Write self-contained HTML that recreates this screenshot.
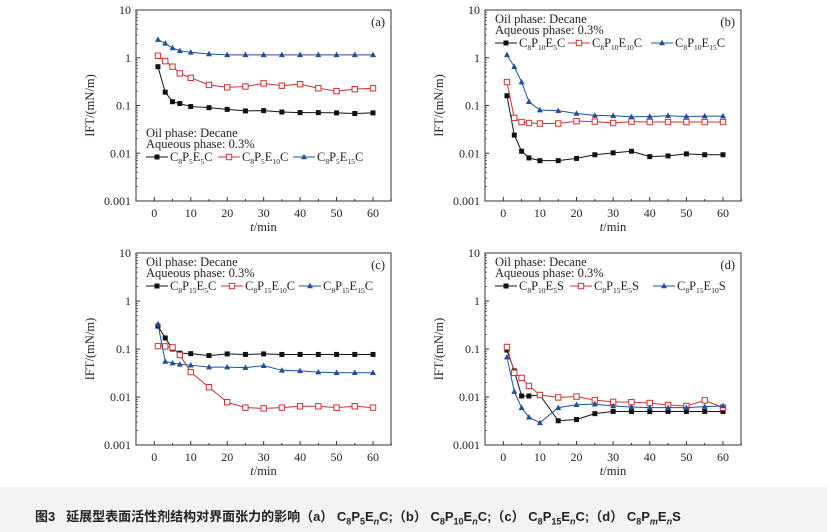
<!DOCTYPE html>
<html><head><meta charset="utf-8"><style>
body{margin:0;width:827px;height:532px;background:#fff;overflow:hidden;font-family:"Liberation Serif",serif}
#cap{position:absolute;left:0;top:487px;width:827px;height:45px;background:#f3f3f3}
#capt{position:absolute;left:35px;top:506px;font:bold 13px "Liberation Sans","Noto Sans CJK SC",sans-serif;color:#222;white-space:nowrap}
sub{font-size:9px}
</style></head><body>
<svg id="s" width="827" height="487" style="position:absolute;left:0;top:0" font-family="Liberation Serif, serif"></svg>
<div id="cap"></div>
<div id="capt">图3&nbsp;&nbsp; 延展型表面活性剂结构对界面张力的影响（a） C<sub>8</sub>P<sub>5</sub>E<sub><i>n</i></sub>C;（b） C<sub>8</sub>P<sub>10</sub>E<sub><i>n</i></sub>C;（c） C<sub>8</sub>P<sub>15</sub>E<sub><i>n</i></sub>C;（d） C<sub>8</sub>P<sub><i>m</i></sub>E<sub><i>n</i></sub>S</div>
<script>
var T=[1,3,5,7,10,15,20,25,30,35,40,45,50,55,60];
var P=[
{L:136,R:391,Tp:10,B:201,lab:"(a)",leg:"bottom",offs:[0,72,147],
 names:[["C","8","P","5","E","5","C"],["C","8","P","5","E","10","C"],["C","8","P","5","E","15","C"]],
 d:[[.65,.19,.12,.11,.095,.09,.083,.077,.078,.073,.071,.071,.07,.068,.07],
 [1.1,.85,.65,.47,.38,.27,.24,.25,.29,.26,.28,.23,.2,.22,.23],
 [2.4,2.0,1.6,1.4,1.3,1.2,1.15,1.15,1.15,1.15,1.15,1.15,1.15,1.15,1.15]]},
{L:485,R:741,Tp:10,B:201,lab:"(b)",leg:"top",offs:[0,73,156],
 names:[["C","8","P","10","E","5","C"],["C","8","P","10","E","10","C"],["C","8","P","10","E","15","C"]],
 d:[[.16,.024,.011,.008,.007,.007,.0078,.0093,.0102,.011,.0085,.0088,.0097,.0093,.0093],
 [.31,.055,.045,.043,.042,.042,.047,.046,.043,.046,.045,.045,.045,.045,.045],
 [1.15,.65,.31,.12,.08,.078,.068,.062,.061,.058,.059,.061,.059,.06,.06]]},
{L:136,R:391,Tp:253,B:445,lab:"(c)",leg:"top",offs:[0,75,153],
 names:[["C","8","P","15","E","5","C"],["C","8","P","15","E","10","C"],["C","8","P","15","E","15","C"]],
 d:[[.3,.17,.1,.082,.08,.073,.079,.077,.079,.077,.077,.077,.077,.077,.077],
 [.115,.113,.108,.075,.033,.016,.0078,.006,.0058,.006,.0064,.0064,.006,.0064,.006],
 [.33,.055,.051,.048,.046,.042,.042,.041,.045,.036,.035,.033,.032,.032,.032]]},
{L:485,R:741,Tp:253,B:445,lab:"(d)",leg:"top",offs:[0,75,158],
 names:[["C","8","P","10","E","5","S"],["C","8","P","15","E","5","S"],["C","8","P","15","E","10","S"]],
 d:[[.095,.035,.0105,.0105,.011,.0032,.0034,.0045,.005,.005,.005,.005,.005,.005,.005],
 [.11,.032,.025,.017,.011,.0098,.0102,.0086,.0079,.0078,.0075,.0068,.0065,.0085,.006],
 [.068,.013,.006,.0038,.0029,.006,.0069,.0071,.0065,.0062,.006,.006,.006,.0063,.0065]]}];
var C=["#111","#d03030","#1f4f9a"];
var h="";
function mk(k,x,y){if(k==0)return '<rect x="'+(x-2.5)+'" y="'+(y-2.5)+'" width="5" height="5" fill="#111"/>';
if(k==1)return '<rect x="'+(x-2.7)+'" y="'+(y-2.7)+'" width="5.4" height="5.4" fill="#fff" stroke="#d03030" stroke-width="1"/>';
return '<polygon points="'+x+','+(y-3.2)+' '+(x+3)+','+(y+2.3)+' '+(x-3)+','+(y+2.3)+'" fill="#1f4f9a"/>';}
function nm(a,x,y){return '<text x="'+x+'" y="'+y+'" font-size="12.5" fill="#222">'+a[0]+'<tspan font-size="7.5" dy="3">'+a[1]+'</tspan><tspan dy="-3">'+a[2]+'</tspan><tspan font-size="7.5" dy="3">'+a[3]+'</tspan><tspan dy="-3">'+a[4]+'</tspan><tspan font-size="7.5" dy="3">'+a[5]+'</tspan><tspan dy="-3">'+a[6]+'</tspan></text>';}
P.forEach(function(p){
 var x0=p.L+18.3, sx=(p.R-18-x0)/60, dec=(p.B-p.Tp)/4;
 function X(t){return x0+t*sx} function Y(v){return p.B-(Math.log10(v)+3)*dec}
 h+='<rect x="'+p.L+'" y="'+p.Tp+'" width="'+(p.R-p.L)+'" height="'+(p.B-p.Tp)+'" fill="none" stroke="#333" stroke-width="1"/>';
 var yl=["0.001","0.01","0.1","1","10"];
 for(var i=0;i<=4;i++){var y=p.B-i*dec;
  h+='<line x1="'+p.L+'" x2="'+(p.L+4)+'" y1="'+y+'" y2="'+y+'" stroke="#333"/><text x="'+(p.L-5)+'" y="'+(y+4)+'" font-size="12" text-anchor="end" fill="#222">'+yl[i]+'</text>';
  if(i<4)for(var m=2;m<10;m++){var ym=y-Math.log10(m)*dec;h+='<line x1="'+p.L+'" x2="'+(p.L+2)+'" y1="'+ym+'" y2="'+ym+'" stroke="#333" stroke-width=".7"/>';}}
 for(var t=0;t<=60;t+=10){h+='<line x1="'+X(t)+'" x2="'+X(t)+'" y1="'+p.B+'" y2="'+(p.B-4)+'" stroke="#333"/><text x="'+X(t)+'" y="'+(p.B+16)+'" font-size="12" text-anchor="middle" fill="#222">'+t+'</text>';
  h+='<line x1="'+X(t+5)+'" x2="'+X(t+5)+'" y1="'+p.B+'" y2="'+(p.B-2)+'" stroke="#333"/>';}
 h+='<text x="'+((p.L+p.R)/2)+'" y="'+(p.B+30)+'" font-size="12.5" text-anchor="middle" fill="#222"><tspan font-style="italic">t</tspan>/min</text>';
 var cy=(p.Tp+p.B)/2;
 h+='<text transform="translate('+(p.L-42)+','+cy+') rotate(-90)" font-size="12.5" text-anchor="middle" fill="#222">IFT/(mN/m)</text>';
 h+='<text x="'+(p.R-6)+'" y="'+(p.Tp+16)+'" font-size="12.5" text-anchor="end" fill="#222">'+p.lab+'</text>';
 p.d.forEach(function(s,k){var pts=s.map(function(v,i){return X(T[i])+','+Y(v)}).join(' ');
  h+='<polyline points="'+pts+'" fill="none" stroke="'+C[k]+'" stroke-width="1"/>';
  s.forEach(function(v,i){h+=mk(k,X(T[i]),Y(v))});});
 var ly=p.leg=="top"?p.Tp+13:p.Tp+127, lx=p.L+10;
 h+='<text x="'+lx+'" y="'+ly+'" font-size="12.5" fill="#222">Oil phase: Decane</text><text x="'+lx+'" y="'+(ly+11)+'" font-size="12.5" fill="#222">Aqueous phase: 0.3%</text>';
 var ey=ly+24;
 for(var k=0;k<3;k++){var ex=p.L+10+p.offs[k];
  h+='<line x1="'+ex+'" x2="'+(ex+22)+'" y1="'+(ey-4)+'" y2="'+(ey-4)+'" stroke="'+C[k]+'"/>'+mk(k,ex+11,ey-4)+nm(p.names[k],ex+24,ey);}
});
document.getElementById("s").innerHTML=h;
</script>
</body></html>
